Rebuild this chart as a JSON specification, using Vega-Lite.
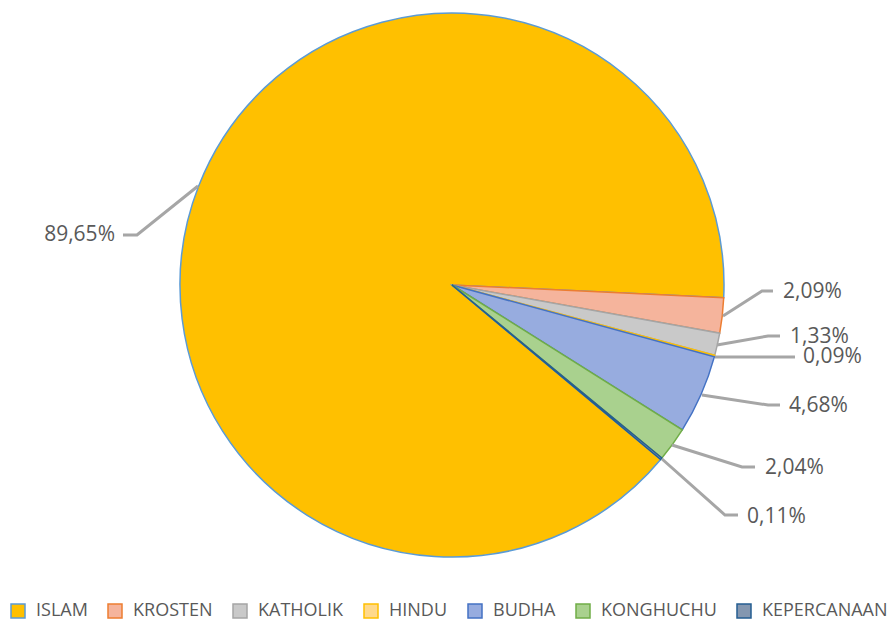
{
  "$schema": "https://vega.github.io/schema/vega-lite/v6.json",
  "width": 893,
  "height": 621,
  "autosize": {"type": "none"},
  "padding": 0,
  "background": "white",
  "config": {"view": {"stroke": null}},
  "datasets": {
    "slices": [
      {"agama": "ISLAM", "pct": 89.65, "idx": 1},
      {"agama": "KROSTEN", "pct": 2.09, "idx": 2},
      {"agama": "KATHOLIK", "pct": 1.33, "idx": 3},
      {"agama": "HINDU", "pct": 0.09, "idx": 4},
      {"agama": "BUDHA", "pct": 4.68, "idx": 5},
      {"agama": "KONGHUCHU", "pct": 2.04, "idx": 6},
      {"agama": "KEPERCANAAN", "pct": 0.11, "idx": 7}
    ],
    "leaders": [
      {"agama": "ISLAM", "p": 1, "u": -1.2096, "v": 0.1838},
      {"agama": "ISLAM", "p": 2, "u": -1.1581, "v": 0.1838},
      {"agama": "ISLAM", "p": 3, "u": -0.9338, "v": 0.3640},
      {"agama": "KROSTEN", "p": 1, "u": 0.9963, "v": -0.1140},
      {"agama": "KROSTEN", "p": 2, "u": 1.1397, "v": -0.0221},
      {"agama": "KROSTEN", "p": 3, "u": 1.1801, "v": -0.0221},
      {"agama": "KATHOLIK", "p": 1, "u": 0.9743, "v": -0.2206},
      {"agama": "KATHOLIK", "p": 2, "u": 1.1618, "v": -0.1875},
      {"agama": "KATHOLIK", "p": 3, "u": 1.2059, "v": -0.1875},
      {"agama": "HINDU", "p": 1, "u": 0.9669, "v": -0.2647},
      {"agama": "HINDU", "p": 2, "u": 1.2610, "v": -0.2647},
      {"agama": "BUDHA", "p": 1, "u": 0.9191, "v": -0.4044},
      {"agama": "BUDHA", "p": 2, "u": 1.1618, "v": -0.4412},
      {"agama": "BUDHA", "p": 3, "u": 1.2059, "v": -0.4412},
      {"agama": "KONGHUCHU", "p": 1, "u": 0.8088, "v": -0.5882},
      {"agama": "KONGHUCHU", "p": 2, "u": 1.0662, "v": -0.6691},
      {"agama": "KONGHUCHU", "p": 3, "u": 1.1140, "v": -0.6691},
      {"agama": "KEPERCANAAN", "p": 1, "u": 0.7721, "v": -0.6397},
      {"agama": "KEPERCANAAN", "p": 2, "u": 1.0037, "v": -0.8456},
      {"agama": "KEPERCANAAN", "p": 3, "u": 1.0515, "v": -0.8456}
    ],
    "labels": [
      {"agama": "ISLAM", "label": "89,65%", "u": -1.2390, "v": 0.1838},
      {"agama": "KROSTEN", "label": "2,09%", "u": 1.2169, "v": -0.0257},
      {"agama": "KATHOLIK", "label": "1,33%", "u": 1.2426, "v": -0.1912},
      {"agama": "HINDU", "label": "0,09%", "u": 1.2904, "v": -0.2647},
      {"agama": "BUDHA", "label": "4,68%", "u": 1.2390, "v": -0.4449},
      {"agama": "KONGHUCHU", "label": "2,04%", "u": 1.1507, "v": -0.6728},
      {"agama": "KEPERCANAAN", "label": "0,11%", "u": 1.0846, "v": -0.8529}
    ]
  },
  "layer": [
    {
      "data": {"name": "slices"},
      "mark": {"type": "arc", "outerRadius": 272, "strokeWidth": 1.5},
      "encoding": {
        "x": {"datum": 0, "type": "quantitative", "scale": {"domain": [-1.66176, 1.62132], "nice": false, "zero": false}, "axis": null},
        "y": {"datum": 0, "type": "quantitative", "scale": {"domain": [-1.23529, 1.04779], "nice": false, "zero": false}, "axis": null},
        "theta": {"field": "pct", "type": "quantitative", "stack": true, "scale": {"range": [2.2672, 8.5504]}},
        "order": {"field": "idx", "type": "quantitative"},
        "color": {
          "field": "agama", "type": "nominal",
          "scale": {
            "domain": ["ISLAM", "KROSTEN", "KATHOLIK", "HINDU", "BUDHA", "KONGHUCHU", "KEPERCANAAN"],
            "range": ["#FFC000", "#F5B49C", "#C9C9C9", "#FFD98C", "#97ACDF", "#A9D18E", "#8497B0"]
          },
          "legend": {
            "orient": "none", "direction": "horizontal", "legendX": 9, "legendY": 602,
            "title": null, "symbolType": "square", "symbolSize": 196, "symbolStrokeWidth": 1.5,
            "symbolOpacity": 1, "labelFont": "Open Sans", "labelFontSize": 18, "labelColor": "#595959",
            "labelOffset": 9, "columnPadding": 17, "padding": 0, "labelLimit": 300
          }
        },
        "stroke": {
          "field": "agama", "type": "nominal",
          "scale": {
            "domain": ["ISLAM", "KROSTEN", "KATHOLIK", "HINDU", "BUDHA", "KONGHUCHU", "KEPERCANAAN"],
            "range": ["#5B9BD5", "#ED7D31", "#A5A5A5", "#FFC000", "#4472C4", "#70AD47", "#255E91"]
          },
          "legend": {
            "orient": "none", "direction": "horizontal", "legendX": 9, "legendY": 602,
            "title": null, "symbolType": "square", "symbolSize": 196, "symbolStrokeWidth": 1.5,
            "symbolOpacity": 1, "labelFont": "Open Sans", "labelFontSize": 18, "labelColor": "#595959",
            "labelOffset": 9, "columnPadding": 17, "padding": 0, "labelLimit": 300
          }
        }
      }
    },
    {
      "data": {"name": "leaders"},
      "mark": {"type": "line", "color": "#A6A6A6", "strokeWidth": 3, "strokeCap": "butt", "strokeJoin": "miter"},
      "encoding": {
        "x": {"field": "u", "type": "quantitative"},
        "y": {"field": "v", "type": "quantitative"},
        "detail": {"field": "agama"},
        "order": {"field": "p", "type": "quantitative"}
      }
    },
    {
      "data": {"name": "labels"},
      "transform": [{"filter": "datum.agama === 'ISLAM'"}],
      "mark": {"type": "text", "align": "right", "baseline": "middle", "font": "Open Sans", "fontSize": 21, "color": "#595959"},
      "encoding": {
        "x": {"field": "u", "type": "quantitative"},
        "y": {"field": "v", "type": "quantitative"},
        "text": {"field": "label"}
      }
    },
    {
      "data": {"name": "labels"},
      "transform": [{"filter": "datum.agama !== 'ISLAM'"}],
      "mark": {"type": "text", "align": "left", "baseline": "middle", "font": "Open Sans", "fontSize": 21, "color": "#595959"},
      "encoding": {
        "x": {"field": "u", "type": "quantitative"},
        "y": {"field": "v", "type": "quantitative"},
        "text": {"field": "label"}
      }
    }
  ]
}
